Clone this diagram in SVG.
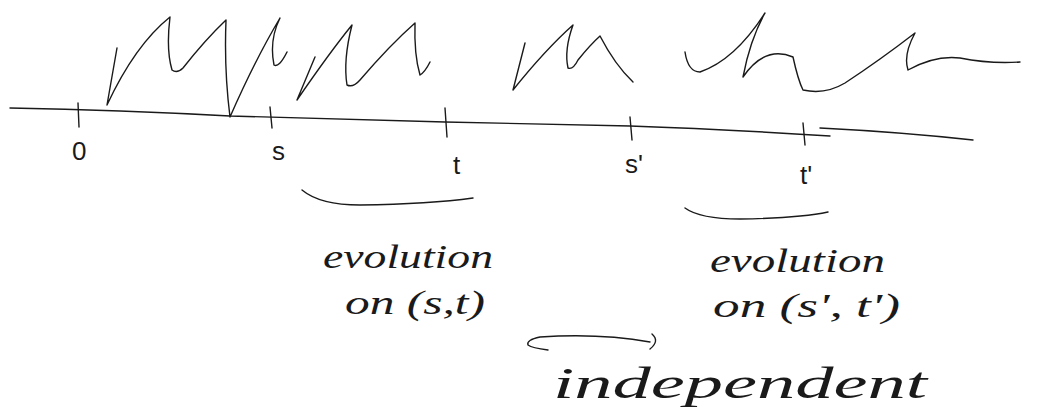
<svg xmlns="http://www.w3.org/2000/svg" width="1045" height="419" viewBox="0 0 1045 419">
<style>
.ink{fill:none;stroke:#1a1a1a;stroke-width:1.4;stroke-linecap:round;stroke-linejoin:round}
.hw{font-family:"Liberation Serif","DejaVu Serif",serif;font-style:italic;fill:#1a1a1a}
.lab{font-family:"Liberation Sans","DejaVu Sans",sans-serif;fill:#1a1a1a;font-size:26px}
</style>
<rect width="1045" height="419" fill="#ffffff"/>
<g id="path-sample">
<path class="ink" d="M107,105 L117,48 M107,105 Q135,45 170,17 Q166,50 172,70 Q177,74 183,68 Q205,40 226,20 Q224,70 230,117 Q255,60 280,18 Q269,40 274,65 Q279,68 287,52"/>
<path class="ink" d="M297,100 L315,57 M297,100 Q330,52 352,25 Q343,60 347,85 Q353,88 360,80 Q390,45 415,23 Q414,55 420,75 Q425,72 430,62"/>
<path class="ink" d="M513,90 L525,43 M513,90 Q545,50 573,25 Q564,50 568,68 Q573,70 578,60 Q590,45 600,36 Q615,65 633,82"/>
<path class="ink" d="M685,52 Q688,72 700,72 Q735,60 765,13 Q750,40 743,77 Q765,45 793,57 Q798,80 803,90 Q825,95 845,83 Q880,60 915,33 Q903,55 908,70 Q935,55 960,58 Q990,64 1020,62"/>
</g>
<g id="axis">
<path class="ink" d="M10,108 Q120,110 230,116 Q350,119 445,122 Q540,124 630,126 Q720,129 830,136 M820,128 Q900,132 973,140"/>
<path class="ink" d="M78,103 L79,127 M270,107 L272,128 M445,108 L447,137 M630,117 L632,140 M803,123 L805,145"/>
</g>
<g id="labels">
<text class="lab" x="72" y="160">0</text>
<text class="lab" x="272" y="160">s</text>
<text class="lab" x="453" y="174">t</text>
<text class="lab" x="625" y="173">s'</text>
<text class="lab" x="800" y="184">t'</text>
</g>
<g id="interval-1">
<path class="ink" d="M302,190 Q320,205 360,205 Q430,204 473,198"/>
<text class="hw" x="323" y="268" font-size="34" textLength="170" lengthAdjust="spacingAndGlyphs">evolution</text>
<text class="hw" x="345" y="314" font-size="34" textLength="140" lengthAdjust="spacingAndGlyphs">on (s,t)</text>
</g>
<g id="interval-2">
<path class="ink" d="M685,208 Q700,219 740,219 Q800,218 828,212"/>
<text class="hw" x="710" y="272" font-size="34" textLength="175" lengthAdjust="spacingAndGlyphs">evolution</text>
<text class="hw" x="713" y="317" font-size="34" textLength="187" lengthAdjust="spacingAndGlyphs">on (s', t')</text>
</g>
<g id="connectors">
<path class="ink" d="M540,337 Q600,333 650,342 M540,337 Q526,340 528,345 Q532,348 548,350 M652,334 Q660,341 650,349"/>
</g>
<g id="independent">
<text class="hw" x="553" y="398" font-size="44" textLength="374" lengthAdjust="spacingAndGlyphs">independent</text>
</g>
</svg>
